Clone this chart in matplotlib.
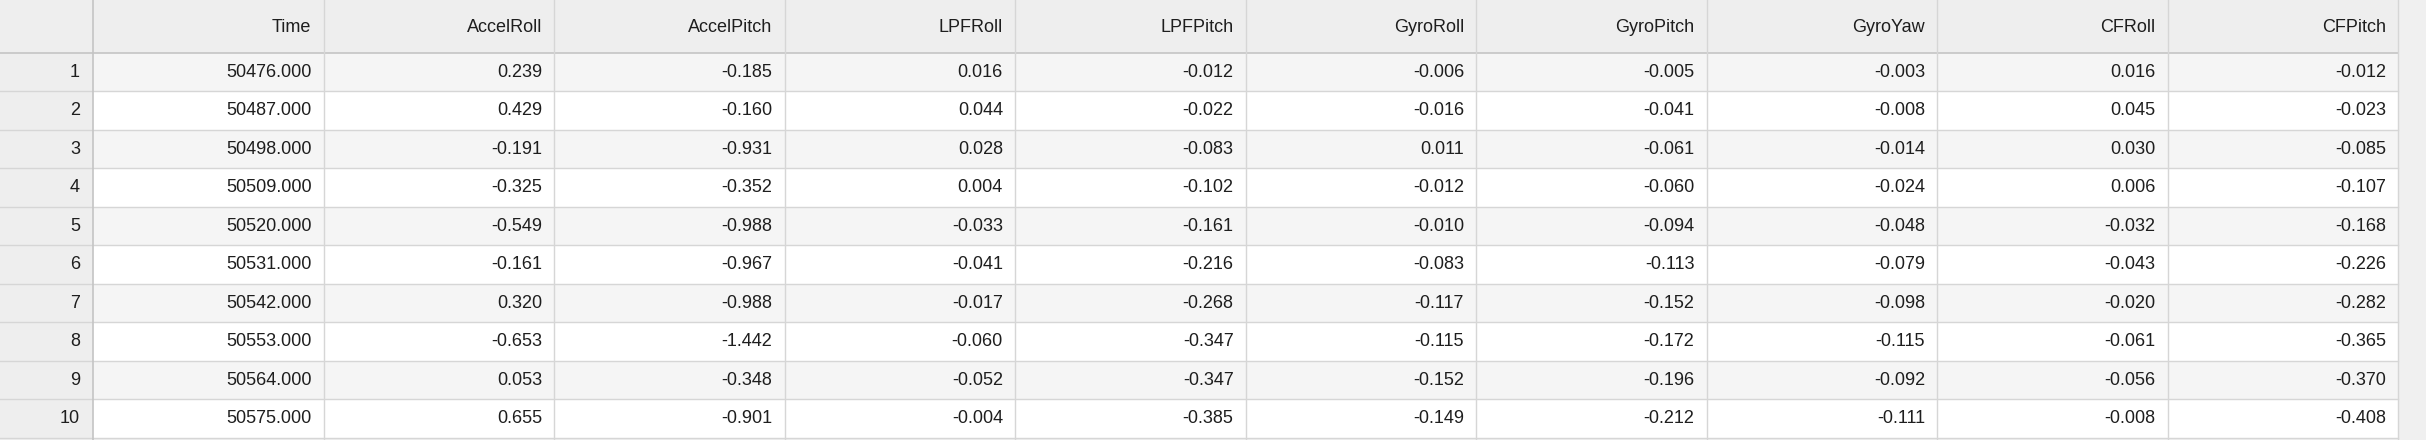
import matplotlib.pyplot as plt
import matplotlib.patches as patches

columns = ['Time', 'AccelRoll', 'AccelPitch', 'LPFRoll', 'LPFPitch',
           'GyroRoll', 'GyroPitch', 'GyroYaw', 'CFRoll', 'CFPitch']
time = [50476, 50487, 50498, 50509, 50520, 50531, 50542, 50553, 50564, 50575]
accel_roll = [0.239, 0.429, -0.191, -0.325, -0.549, -0.161, 0.320, -0.653, 0.053, 0.655]
accel_pitch = [-0.185, -0.160, -0.931, -0.352, -0.988, -0.967, -0.988, -1.442, -0.348, -0.901]
lpf_roll = [0.016, 0.044, 0.028, 0.004, -0.033, -0.041, -0.017, -0.060, -0.052, -0.004]
lpf_pitch = [-0.012, -0.022, -0.083, -0.102, -0.161, -0.216, -0.268, -0.347, -0.347, -0.385]
gyro_roll = [-0.006, -0.016, 0.011, -0.012, -0.010, -0.083, -0.117, -0.115, -0.152, -0.149]
gyro_pitch = [-0.005, -0.041, -0.061, -0.060, -0.094, -0.113, -0.152, -0.172, -0.196, -0.212]
gyro_yaw = [-0.003, -0.008, -0.014, -0.024, -0.048, -0.079, -0.098, -0.115, -0.092, -0.111]
cf_roll = [0.016, 0.045, 0.030, 0.006, -0.032, -0.043, -0.020, -0.061, -0.056, -0.008]
cf_pitch = [-0.012, -0.023, -0.085, -0.107, -0.168, -0.226, -0.282, -0.365, -0.370, -0.408]
series = [time, accel_roll, accel_pitch, lpf_roll, lpf_pitch,
          gyro_roll, gyro_pitch, gyro_yaw, cf_roll, cf_pitch]

W, H = 2426, 440
idx_w = 93
col_w = 230.5
head_h = 53
row_h = 38.5
pad = 12
line_c = '#d6d6d6'
txt_c = '#1e1e1e'
font = dict(family='Liberation Sans', fontsize=13, color=txt_c)

fig = plt.figure(figsize=(W / 100, H / 100), dpi=100)
ax = fig.add_axes([0, 0, 1, 1])
ax.set_xlim(0, W)
ax.set_ylim(H, 0)
ax.axis('off')

table_r = idx_w + col_w * len(columns)
ax.add_patch(patches.Rectangle((0, 0), W, H, fc='#f0f0f0', ec='none'))
ax.add_patch(patches.Rectangle((0, 0), table_r, head_h, fc='#eeeeee', ec='none'))

for i in range(len(time)):
    y0 = head_h + i * row_h
    bg = '#f5f5f5' if i % 2 == 0 else 'white'
    ax.add_patch(patches.Rectangle((idx_w, y0), table_r - idx_w, row_h, fc=bg, ec='none'))
    ax.add_patch(patches.Rectangle((0, y0), idx_w, row_h, fc='#eeeeee', ec='none'))
    ax.axhline(y0 + row_h, xmax=table_r / W, color=line_c, lw=1)
    yc = y0 + row_h / 2
    ax.text(idx_w - pad - 1, yc, str(i + 1), ha='right', va='center', **font)
    for j, vals in enumerate(series):
        x_r = idx_w + (j + 1) * col_w - pad
        ax.text(x_r, yc, f'{vals[i]:.3f}', ha='right', va='center', **font)

ax.axhline(head_h, xmax=table_r / W, color='#c4c4c4', lw=1.2)
for j, name in enumerate(columns):
    x_r = idx_w + (j + 1) * col_w - pad
    ax.text(x_r, head_h / 2 + 1, name, ha='right', va='center', **font)

ax.axvline(idx_w, color='#c4c4c4', lw=1.2)
for j in range(len(columns)):
    ax.axvline(idx_w + (j + 1) * col_w, color=line_c, lw=1)

fig.savefig('out.png', dpi=100)
